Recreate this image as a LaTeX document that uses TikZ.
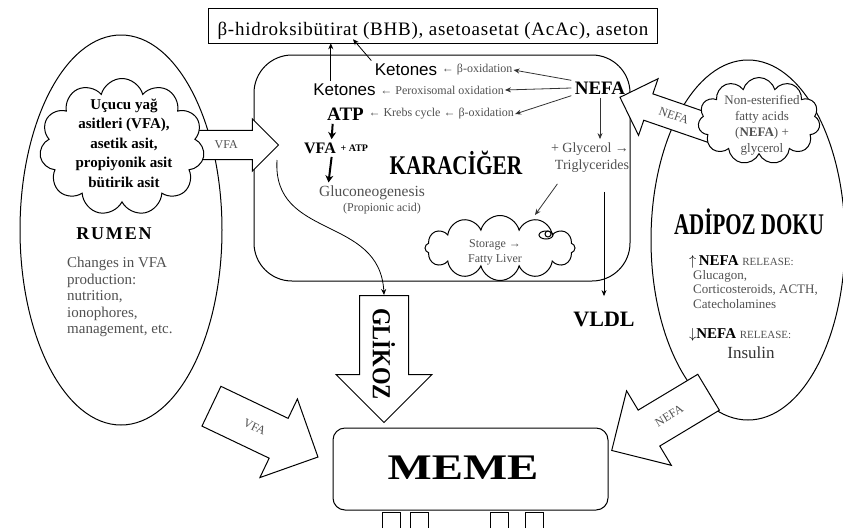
\documentclass[tikz,border=0pt]{standalone}
\usepackage{fontspec}
\setmainfont{Liberation Serif}
\setsansfont{Liberation Sans}
\usetikzlibrary{positioning, arrows.meta, calc, shapes.geometric, shapes.symbols, shapes.arrows}
\definecolor{inkgray}{HTML}{505050}
\newcommand{\fsz}[2]{\fontsize{#1}{#2}\selectfont}
\tikzset{
  organ/.style={draw, line width=1pt, ellipse},
  puff/.style={draw, line width=1pt, cloud, cloud puffs=11, cloud ignores aspect, fill=white},
  fatarrow/.style={draw, line width=1pt, fill=white, single arrow, anchor=tail,
    single arrow tip angle=90, inner xsep=0pt, text=inkgray, font=\fsz{12}{12}},
  tagtext/.style={inkgray, font=\fsz{12}{14}, inner sep=1pt},
  thinarrow/.style={-{Stealth[length=6pt, width=5pt]}, line width=0.8pt, black!80},
  boldarrow/.style={-{Stealth[length=7pt, width=8pt]}, line width=2pt}
}
\begin{document}
\begin{tikzpicture}[x=1pt, y=-1pt]
  \useasboundingbox (0,0) rectangle (843,528);

  % outlines
  \node[organ, minimum width=202pt, minimum height=390pt] (rumen) at (121,230) {};
  \node[organ, minimum width=194pt, minimum height=360pt] (adipoz) at (748,240) {};
  \node[draw, line width=1pt, rounded corners=38pt, minimum width=376pt,
    minimum height=226pt] (liver) at (442,168) {};
  \node[draw, line width=1pt, minimum width=449pt, minimum height=35pt] (ketbox) at (432.5,25.5) {};
  \node[font=\fsz{19}{20}\addfontfeature{LetterSpace=4}] (kettext) at (433,31)
    {β-hidroksibütirat (BHB), asetoasetat (AcAc), aseton};

  % block arrows
  \node[fatarrow, minimum height=90pt, inner ysep=10pt, single arrow head extend=11.5pt] (vfain) at (188,145) {VFA};
  \node[fatarrow, minimum height=100pt, inner ysep=9.5pt, single arrow head extend=16pt,
    shape border rotate=180, rotate=-19] (nefain) at (715,130) {NEFA};
  \node[fatarrow, minimum height=127pt, inner ysep=24pt, single arrow head extend=23.5pt, rotate=-90] (glk) at (384,295) {};
  \node[font=\bfseries\fsz{26}{28}, rotate=-90, xscale=0.87] (glktext) at (384,354) {GLİKOZ};
  \node[fatarrow, minimum height=118pt, inner ysep=17.5pt, single arrow head extend=21.5pt, rotate=-25.5] (vfaout) at (211,406) {VFA};
  \node[fatarrow, minimum height=113pt, inner ysep=16.5pt, single arrow head extend=22.5pt,
    shape border rotate=180, rotate=31] (nefaout) at (709,392) {NEFA};

  % rumen
  \node[puff, minimum width=165pt, minimum height=137pt] (vfacloud) at (122,147) {};
  \node[align=center, font=\bfseries\fsz{15}{19.5}] (vfatext) at (124,143)
    {Uçucu yağ\\asitleri (VFA),\\asetik asit,\\propiyonik asit\\bütirik asit};
  \node[font=\bfseries\fsz{18}{20}\addfontfeature{LetterSpace=10}] (rumenname) at (114,234) {RUMEN};
  \node[anchor=north west, align=left, inkgray, font=\fsz{15}{16.5}, inner sep=0pt]
    (rumennote) at (67,257) {Changes in VFA\\production:\\nutrition,\\ionophores,\\management, etc.};

  % adipoz doku
  \node[puff, minimum width=122pt, minimum height=87pt] (nefacloud) at (759,121) {};
  \node[align=center, inkgray, font=\fsz{13}{16}] (nefatext) at (762,125)
    {Non-esterified\\fatty acids\\(\textbf{NEFA}) +\\glycerol};
  \node[font=\bfseries\fsz{30}{32}, xscale=0.7] (adipozname) at (749,222) {ADİPOZ DOKU};
  \node[anchor=west, inner sep=0pt, font=\fsz{15}{16}] (uprel) at (689,262)
    {$\uparrow$\,\textbf{NEFA} {\color{inkgray}\fsz{11}{12}RELEASE:}};
  \node[anchor=north west, align=left, inkgray, font=\fsz{13}{14.5}, inner sep=0pt]
    (uplist) at (693,270) {Glucagon,\\Corticosteroids, ACTH,\\Catecholamines};
  \node[anchor=west, inner sep=0pt, font=\fsz{15}{16}] (downrel) at (689,335)
    {$\downarrow$\textbf{NEFA} {\color{inkgray}\fsz{11}{12}RELEASE:}};
  \node[font=\fsz{17}{18}, black!80] (insulin) at (751,353) {Insulin};

  % karaciger
  \node[font=\sffamily\fsz{17}{18}] (ket1) at (406,70) {Ketones};
  \node[tagtext, anchor=west] (ox1) at (ket1.east) {← β-oxidation};
  \node[font=\sffamily\fsz{17}{18}] (ket2) at (344.5,90) {Ketones};
  \node[tagtext, anchor=west] (ox2) at (ket2.east) {← Peroxisomal oxidation};
  \node[font=\bfseries\fsz{19}{20}] (atp) at (345.5,114) {ATP};
  \node[tagtext, anchor=west] (ox3) at (atp.east) {← Krebs cycle ← β-oxidation};
  \node[font=\bfseries\fsz{16}{18}] (vfa) at (320,148) {VFA};
  \node[anchor=west, inner sep=1pt, font=\bfseries\fsz{10}{12}] (vfaatp) at (vfa.east) {+ ATP};
  \node[inkgray, font=\fsz{15.5}{17}] (gluco) at (372,193) {Gluconeogenesis};
  \node[inkgray, font=\fsz{12}{14}] (propion) at (382,209) {(Propionic acid)};
  \node[font=\bfseries\fsz{27}{30}, xscale=0.79] (karaciger) at (456,163) {KARACİĞER};
  \node[font=\bfseries\fsz{19}{20}] (nefa) at (600,88) {NEFA};
  \node[inkgray, font=\fsz{14}{16}] (glyc) at (590,149) {+ Glycerol →};
  \node[inkgray, font=\fsz{14}{16}] (trig) at (592,166) {Triglycerides};
  \node[puff, cloud puffs=12, minimum width=150pt, minimum height=65pt] (storage) at (500,248) {};
  \node[align=center, inkgray, font=\fsz{12}{15}] (storagetext) at (495,252) {Storage →\\Fatty Liver};
  \draw[line width=1pt] (546,235) ellipse [x radius=7, y radius=4];
  \draw[line width=1pt, fill=white] (548,234) circle [radius=3];
  \node[font=\bfseries\fsz{22}{24}] (vldl) at (604,319) {VLDL};

  % liver arrows
  \draw[thinarrow] (nefa.165) -- (ox1.east);
  \draw[thinarrow] (nefa.west) -- (ox2.east);
  \draw[thinarrow] (nefa.195) -- (ox3.east);
  \draw[thinarrow] (nefa.south) -- (nefa.south |- glyc.north);
  \draw[boldarrow] ($(atp.south west)+(9,0)$) -- ($(vfa.north west)+(31,0)$);
  \draw[boldarrow] ($(vfa.south west)+(31,0)$) -- ($(gluco.north west)+(13,0)$);
  \draw[thinarrow] ($(trig.south west)+(6,8)$) -- ($(storage.north)+(35,0)$);
  \coordinate (vldltop) at ($(trig.south -| vldl.north)+(0,16)$);
  \draw[thinarrow, black] (vldltop) -- ($(vldl.north)+(0,-12)$);
  \coordinate (k2top) at ($(ket2.north west)+(21,0)$);
  \draw[thinarrow, black] (k2top) -- (k2top |- kettext.south);
  \draw[thinarrow, black] (ket1.north west) -- ($(kettext.south)+(-80,-4)$);

  % curve to glikoz
  \coordinate (gstart) at (277,160);
  \draw[thinarrow, black] (gstart) .. controls (272,240) and (380,215) .. (glk.tail);

  % meme
  \node[draw, line width=1pt, rounded corners=12pt, minimum width=275pt, minimum height=82pt] (meme) at (470.5,469) {};
  \node[font=\bfseries\fsz{36}{40}, xscale=1.3] (memetext) at (463,468) {MEME};
  \foreach \x in {382,410,490,525}
    \draw[line width=1pt] (\x,528) -- (\x,512) -- (\x+18,512) -- (\x+18,528);
\end{tikzpicture}
\end{document}
